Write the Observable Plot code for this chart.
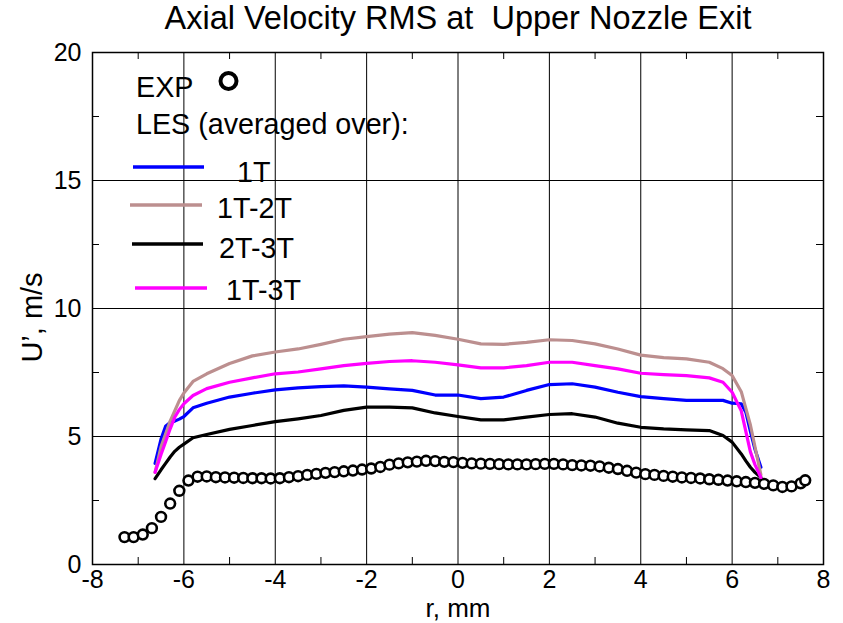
<!DOCTYPE html>
<html><head><meta charset="utf-8">
<script src="https://cdn.jsdelivr.net/npm/d3@7"></script>
<script src="https://cdn.jsdelivr.net/npm/@observablehq/plot@0.6"></script>
<style>body{margin:0;background:#fff} svg{display:block}</style>
</head><body><div id="chart"></div>
<script>
const titleText = "Axial Velocity RMS at\u00a0 Upper Nozzle Exit";
const xLabel = "r, mm";
const yLabel = "U\u2019, m/s";

const xTicks = [-8, -6, -4, -2, 0, 2, 4, 6, 8];
const yTicks = [0, 5, 10, 15, 20];
const xMinor = [-7, -5, -3, -1, 1, 3, 5, 7];
const yMinor = [2.5, 7.5, 12.5, 17.5];

// Experiment (circles)
const expR = [-7.3,-7.1,-6.9,-6.7,-6.5,-6.3,-6.1,-5.9,-5.7,-5.5,-5.3,-5.1,-4.9,-4.7,-4.5,-4.3,-4.1,-3.9,-3.7,-3.5,-3.3,-3.1,-2.9,-2.7,-2.5,-2.3,-2.1,-1.9,-1.7,-1.5,-1.3,-1.1,-0.9,-0.7,-0.5,-0.3,-0.1,0.1,0.3,0.5,0.7,0.9,1.1,1.3,1.5,1.7,1.9,2.1,2.3,2.5,2.7,2.9,3.1,3.3,3.5,3.7,3.9,4.1,4.3,4.5,4.7,4.9,5.1,5.3,5.5,5.7,5.9,6.1,6.3,6.5,6.7,6.9,7.1,7.3,7.5,7.6];
const expU = [1.07,1.07,1.17,1.42,1.86,2.38,2.88,3.28,3.43,3.44,3.41,3.40,3.39,3.38,3.37,3.37,3.36,3.37,3.41,3.45,3.50,3.54,3.58,3.61,3.64,3.67,3.71,3.75,3.81,3.90,3.95,3.99,4.02,4.05,4.04,4.01,4.00,3.97,3.95,3.94,3.93,3.92,3.91,3.91,3.91,3.92,3.93,3.93,3.91,3.88,3.87,3.86,3.83,3.78,3.73,3.66,3.59,3.53,3.50,3.46,3.43,3.40,3.38,3.36,3.33,3.31,3.28,3.25,3.22,3.19,3.15,3.09,3.03,3.05,3.17,3.29];

// LES (averaged over)
const lesR = [-6.63,-6.5,-6.4,-6.3,-6.2,-6.1,-6.0,-5.8,-5.5,-5.0,-4.5,-4.0,-3.5,-3.0,-2.5,-2.0,-1.5,-1.0,-0.5,0,0.5,1.0,1.5,2.0,2.5,3.0,3.5,4.0,4.5,5.0,5.5,5.8,6.0,6.2,6.3,6.4,6.5,6.63];
const les1T   = [3.95,4.9,5.4,5.55,5.6,5.68,5.78,6.12,6.3,6.54,6.69,6.82,6.9,6.95,6.98,6.93,6.86,6.8,6.62,6.62,6.48,6.54,6.8,7.03,7.06,6.93,6.73,6.56,6.48,6.41,6.41,6.41,6.3,6.28,5.95,5.2,4.5,3.8];
const les1T2T = [3.6,4.6,5.1,5.6,6.0,6.4,6.7,7.15,7.45,7.85,8.15,8.3,8.42,8.6,8.8,8.9,9.0,9.06,8.95,8.8,8.62,8.6,8.68,8.78,8.75,8.62,8.42,8.18,8.08,8.03,7.9,7.65,7.38,6.75,6.1,5.45,4.6,3.5];
const les2T3T = [3.35,3.7,3.95,4.2,4.42,4.58,4.7,4.95,5.08,5.28,5.43,5.58,5.69,5.82,6.02,6.15,6.15,6.12,5.92,5.78,5.65,5.65,5.76,5.86,5.89,5.76,5.52,5.36,5.3,5.26,5.23,5.04,4.78,4.32,4.05,3.8,3.6,3.4];
const les1T3T = [3.6,4.3,4.8,5.3,5.75,6.05,6.28,6.6,6.87,7.12,7.29,7.45,7.52,7.64,7.77,7.86,7.93,7.96,7.9,7.8,7.68,7.68,7.77,7.9,7.9,7.77,7.64,7.47,7.42,7.38,7.29,7.12,6.73,6.0,5.2,4.4,3.9,3.4];

const seriesNames = ["1T", "1T-2T", "2T-3T", "1T-3T"];
const seriesColors = ["#0000ff", "#bc8f8f", "#000000", "#ff00ff"];
const seriesValues = [les1T, les1T2T, les2T3T, les1T3T];
const expName = "EXP";
const lesHeading = "LES (averaged over):";

const expData = expR.map((r, i) => ({r, u: expU[i]}));
const lineData = seriesNames.map((name, k) => lesR.map((r, i) => ({r, u: seriesValues[k][i], name})));

const W = 843, H = 623, mL = 92, mR = 20, mT = 52, mB = 59;
const fw = W - mL - mR, fh = H - mT - mB, tl = 7;
const font = "'Liberation Sans', Arial, Helvetica, sans-serif";

const chart = Plot.plot({
  width: W, height: H,
  marginTop: mT, marginLeft: mL, marginRight: mR, marginBottom: mB,
  x: {domain: [-8, 8]},
  y: {domain: [0, 20]},
  style: {fontFamily: font, background: "white", color: "black"},
  marks: [
    Plot.gridX(xTicks, {stroke: "black", strokeOpacity: 1, strokeWidth: 1}),
    Plot.gridY(yTicks, {stroke: "black", strokeOpacity: 1, strokeWidth: 1}),
    Plot.ruleX(xMinor, {insetTop: fh - tl, stroke: "black", strokeWidth: 1}),
    Plot.ruleX(xMinor, {insetBottom: fh - tl, stroke: "black", strokeWidth: 1}),
    Plot.ruleY(yMinor, {insetRight: fw - tl, stroke: "black", strokeWidth: 1}),
    Plot.ruleY(yMinor, {insetLeft: fw - tl, stroke: "black", strokeWidth: 1}),
    Plot.frame({stroke: "black", strokeWidth: 1.5}),
    Plot.axisX(xTicks, {tickSize: 0, tickPadding: 6, fontSize: 25, tickFormat: d => String(d), label: null}),
    Plot.axisY(yTicks, {tickSize: 0, tickPadding: 11, fontSize: 25, tickFormat: d => String(d), label: null}),
    Plot.dot(expData, {x: "r", y: "u", r: 4.9, stroke: "black", fill: "white", strokeWidth: 2.6}),
    ...lineData.map((d, k) => Plot.line(d, {x: "r", y: "u", stroke: seriesColors[k], strokeWidth: 3.2})),
    Plot.text([titleText], {frameAnchor: "top", lineAnchor: "middle", textAnchor: "middle", dy: -33.5, fontSize: 32.5}),
    Plot.text([xLabel], {frameAnchor: "bottom", lineAnchor: "middle", textAnchor: "middle", dy: 44, fontSize: 26}),
    Plot.text([yLabel], {frameAnchor: "left", lineAnchor: "middle", textAnchor: "middle", dx: -60, dy: 9, rotate: -90, fontSize: 29})
  ]
});

document.getElementById("chart").appendChild(chart);

// Legend drawn inside the frame
const svg = d3.select(chart);
const lg = svg.append("g").attr("font-family", font).attr("font-size", 28.7).attr("fill", "black").attr("text-anchor", "start");
lg.append("text").attr("x", 136).attr("y", 97).text(expName);
lg.append("circle").attr("cx", 228.5).attr("cy", 81).attr("r", 8).attr("fill", "white").attr("stroke", "black").attr("stroke-width", 4);
lg.append("text").attr("x", 136).attr("y", 134).text(lesHeading);
const legRows = [
  {x1: 133, x2: 204, y: 167, tx: 237, ty: 182},
  {x1: 130, x2: 202, y: 205, tx: 217, ty: 218},
  {x1: 132, x2: 203, y: 244, tx: 219, ty: 258},
  {x1: 135, x2: 207, y: 288, tx: 226, ty: 300}
];
legRows.forEach((p, k) => {
  lg.append("line").attr("x1", p.x1).attr("x2", p.x2).attr("y1", p.y).attr("y2", p.y)
    .attr("stroke", seriesColors[k]).attr("stroke-width", 3.5);
  lg.append("text").attr("x", p.tx).attr("y", p.ty).text(seriesNames[k]);
});
</script>
</body></html>
